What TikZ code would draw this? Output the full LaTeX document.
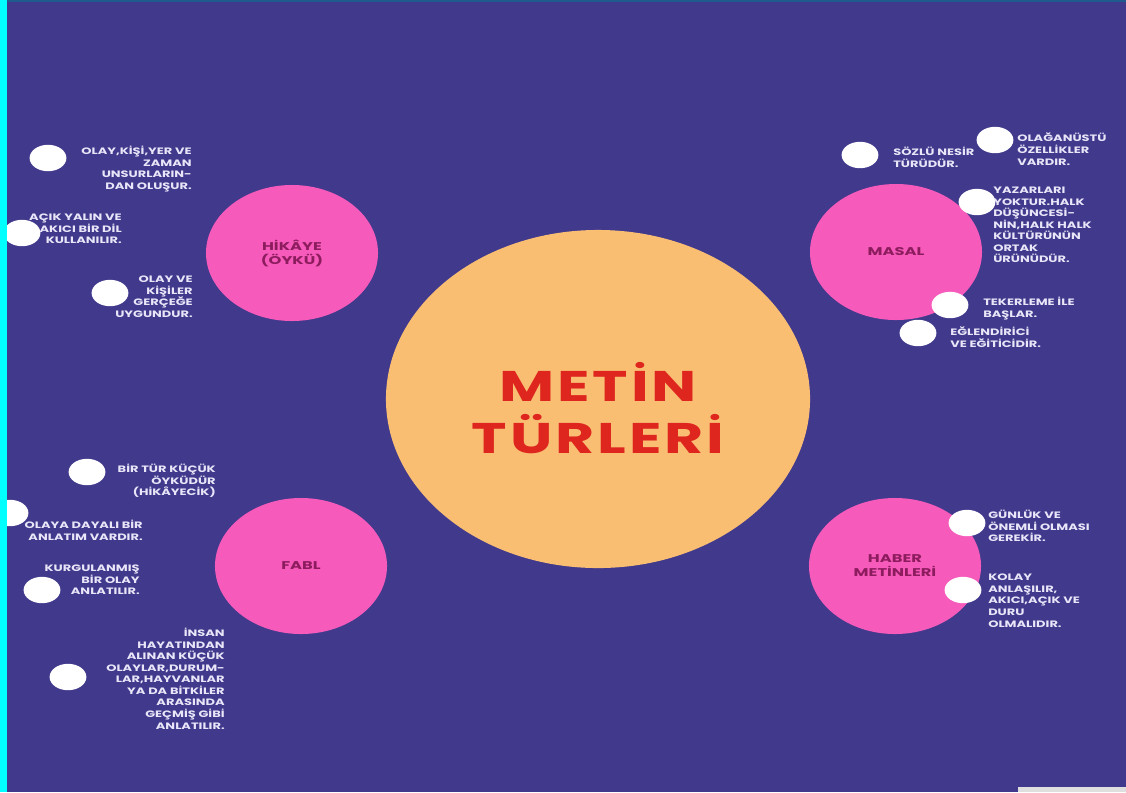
\documentclass[tikz,border=0pt]{standalone}
\usepackage{fontspec}
\setmainfont{Poppins}
\newfontfamily\notefont[FakeStretch=1.4]{Poppins}
\newfontfamily\topicfont[FakeStretch=1.45]{Poppins}
\newfontfamily\titlefont[FakeStretch=1.4, LetterSpace=7]{Poppins}
\usetikzlibrary{shapes.geometric, positioning}
\definecolor{bgpurple}{RGB}{65,57,140}
\definecolor{topic}{RGB}{246,90,186}
\definecolor{core}{RGB}{250,190,115}
\definecolor{titlered}{RGB}{222,38,30}
\definecolor{topictext}{RGB}{140,28,94}
\definecolor{notetext}{RGB}{232,230,248}
\definecolor{sidebar}{RGB}{0,255,255}
\definecolor{topline}{RGB}{30,90,140}
\tikzset{
	x=0.025cm, y=-0.025cm,
	topic/.style={ellipse, fill=topic, minimum width=4.3cm, minimum height=3.4cm, inner sep=0pt,
		font=\topicfont\bfseries\fontsize{8}{10}\selectfont, text=topictext, align=center},
	dot/.style={ellipse, fill=white, minimum width=0.92cm, minimum height=0.66cm, inner sep=0pt},
	noteR/.style={anchor=north east, align=right, inner sep=0pt, text=notetext,
		font=\notefont\bfseries\fontsize{6.6}{8.2}\selectfont},
	noteL/.style={anchor=north west, align=left, inner sep=0pt, text=notetext,
		font=\notefont\bfseries\fontsize{6.6}{8.2}\selectfont},
}
\begin{document}
\begin{tikzpicture}
	\fill[bgpurple] (0,0) rectangle (1126,792);
	\useasboundingbox (0,0) rectangle (1126,792);
	
	% centre and the four topics
	\node[ellipse, fill=core, minimum width=10.6cm, minimum height=8.45cm, inner sep=0pt] (CORE) at (598,399) {};
	\node[text=titlered, align=center, inner sep=0pt, font=\titlefont\bfseries\fontsize{30.5}{37}\selectfont]
		(TITLE) at (598,408) {METİN\\TÜRLERİ};
	\node[topic] (HIKAYE) at (292,253) {HİKÂYE\\(ÖYKÜ)};
	\node[topic] (MASAL) at (896,252) {MASAL};
	\node[topic] (FABL) at (301,566) {FABL};
	\node[topic] (HABER) at (895,566) {HABER\\METİNLERİ};
	
	% hikaye
	\node[dot] (H1) at (48,158) {};
	\node[dot] (H2) at (22,233) {};
	\node[dot] (H3) at (110,293) {};
	\node[noteR] (H1T) at (192,146) {OLAY,KİŞİ,YER VE\\ZAMAN\\UNSURLARIN-\\DAN OLUŞUR.};
	\node[noteR] (H2T) at (122,214) {AÇIK YALIN VE\\AKICI BİR DİL\\KULLANILIR.};
	\node[noteR] (H3T) at (193,276) {OLAY VE\\KİŞİLER\\GERÇEĞE\\UYGUNDUR.};
	
	% masal
	\node[dot] (M1) at (860,155) {};
	\node[dot] (M2) at (995,140) {};
	\node[dot] (M3) at (977,202) {};
	\node[dot] (M4) at (950,305) {};
	\node[dot] (M5) at (918,333) {};
	\node[noteL] (M1T) at (893,147) {SÖZLÜ NESİR\\TÜRÜDÜR.};
	\node[noteL] (M2T) at (1017,133) {OLAĞANÜSTÜ\\ÖZELLİKLER\\VARDIR.};
	\node[noteL] (M3T) at (993,187) {YAZARLARI\\YOKTUR.HALK\\DÜŞÜNCESİ-\\NİN,HALK HALK\\KÜLTÜRÜNÜN\\ORTAK\\ÜRÜNÜDÜR.};
	\node[noteL] (M4T) at (983,297) {TEKERLEME İLE\\BAŞLAR.};
	\node[noteL] (M5T) at (950,327) {EĞLENDİRİCİ\\VE EĞİTİCİDİR.};
	
	% fabl
	\node[dot] (F1) at (87,472) {};
	\node[dot] (F2) at (10,513) {};
	\node[dot] (F3) at (42,590) {};
	\node[dot] (F4) at (68,677) {};
	\node[noteR] (F1T) at (216,464) {BİR TÜR KÜÇÜK\\ÖYKÜDÜR\\(HİKÂYECİK)};
	\node[noteR] (F2T) at (143,520) {OLAYA DAYALI BİR\\ANLATIM VARDIR.};
	\node[noteR] (F3T) at (140,565) {KURGULANMIŞ\\BİR OLAY\\ANLATILIR.};
	\node[noteR] (F4T) at (225,628) {İNSAN\\HAYATINDAN\\ALINAN KÜÇÜK\\OLAYLAR,DURUM-\\LAR,HAYVANLAR\\YA DA BİTKİLER\\ARASINDA\\GEÇMİŞ GİBİ\\ANLATILIR.};
	
	% haber
	\node[dot] (N1) at (967,523) {};
	\node[dot] (N2) at (963,590) {};
	\node[noteL] (N1T) at (988,510) {GÜNLÜK VE\\ÖNEMLİ OLMASI\\GEREKİR.};
	\node[noteL] (N2T) at (988,574) {KOLAY\\ANLAŞILIR,\\AKICI,AÇIK VE\\DURU\\OLMALIDIR.};
	
	% frame
	\fill[sidebar] (0,0) rectangle (7,792);
	\fill[topline] (7,0) rectangle (1126,2);
	\fill[gray!25] (1018,787) rectangle (1126,792);
\end{tikzpicture}
\end{document}
